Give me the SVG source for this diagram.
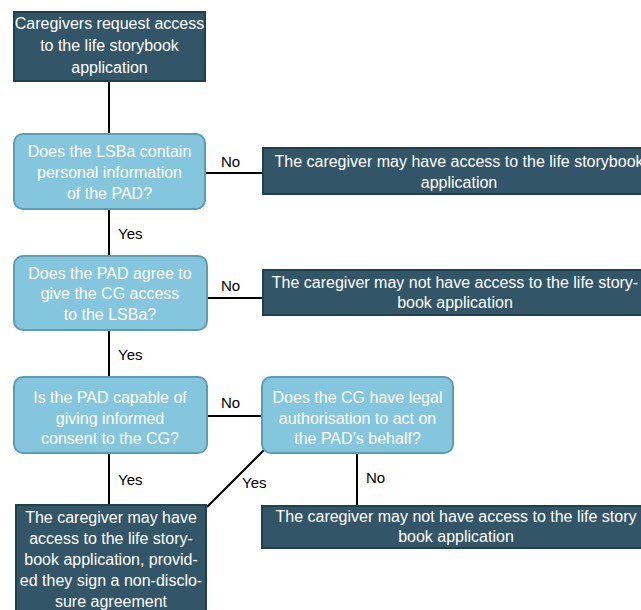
<svg xmlns="http://www.w3.org/2000/svg" width="641" height="610" viewBox="0 0 641 610">
<style>
.dark{fill:#325567;stroke:#21404e;stroke-width:2}
.q{fill:#85c6df;stroke:#5f9bb2;stroke-width:2}
.t{font-family:"Liberation Sans",Arial,sans-serif;font-size:16px;fill:#ffffff;text-anchor:middle}
.l{font-family:"Liberation Sans",Arial,sans-serif;font-size:15px;fill:#000000}
.c{stroke:#000;stroke-width:2;fill:none}
</style>
<rect width="641" height="610" fill="#ffffff"/>
<g id="connectors">
<line class="c" x1="109" y1="82" x2="109" y2="134"/>
<line class="c" x1="205" y1="173" x2="263" y2="173"/>
<line class="c" x1="109" y1="209" x2="109" y2="256"/>
<line class="c" x1="207" y1="298" x2="263" y2="298"/>
<line class="c" x1="109" y1="330" x2="109" y2="377"/>
<line class="c" x1="207" y1="416" x2="262" y2="416"/>
<line class="c" x1="109" y1="453" x2="109" y2="505"/>
<line class="c" x1="264" y1="450" x2="207" y2="507"/>
<line class="c" x1="357" y1="453" x2="357" y2="506"/>
<text class="l" x="221" y="167">No</text>
<text class="l" x="118" y="239">Yes</text>
<text class="l" x="221" y="291">No</text>
<text class="l" x="118" y="360">Yes</text>
<text class="l" x="221" y="408">No</text>
<text class="l" x="118" y="485">Yes</text>
<text class="l" x="242" y="488">Yes</text>
<text class="l" x="366" y="483">No</text>
</g>
<g id="start">
<rect class="dark" x="14" y="12" width="191" height="69"/>
<text class="t" x="109.5" y="29">Caregivers request access</text>
<text class="t" x="109.5" y="51">to the life storybook</text>
<text class="t" x="109.5" y="73">application</text>
</g>
<g id="q1">
<rect class="q" x="14" y="134" width="191" height="75" rx="9"/>
<text class="t" x="109.5" y="157">Does the LSBa contain</text>
<text class="t" x="109.5" y="178">personal information</text>
<text class="t" x="109.5" y="199">of the PAD?</text>
</g>
<g id="r1">
<rect class="dark" x="263" y="148" width="394" height="46"/>
<text class="t" x="459" y="167">The caregiver may have access to the life storybook</text>
<text class="t" x="459" y="188">application</text>
</g>
<g id="q2">
<rect class="q" x="14" y="256" width="193" height="74" rx="9"/>
<text class="t" x="110" y="279">Does the PAD agree to</text>
<text class="t" x="110" y="299">give the CG access</text>
<text class="t" x="110" y="320">to the LSBa?</text>
</g>
<g id="r2">
<rect class="dark" x="263" y="270" width="390" height="45"/>
<text class="t" x="455" y="288">The caregiver may not have access to the life story-</text>
<text class="t" x="455" y="308">book application</text>
</g>
<g id="q3">
<rect class="q" x="14" y="377" width="193" height="76" rx="9"/>
<text class="t" x="110" y="403">Is the PAD capable of</text>
<text class="t" x="110" y="424">giving informed</text>
<text class="t" x="110" y="444">consent to the CG?</text>
</g>
<g id="q4">
<rect class="q" x="262" y="377" width="191" height="76" rx="9"/>
<text class="t" x="357.5" y="403">Does the CG have legal</text>
<text class="t" x="357.5" y="424">authorisation to act on</text>
<text class="t" x="357.5" y="444">the PAD’s behalf?</text>
</g>
<g id="r3">
<rect class="dark" x="16" y="505" width="190" height="110"/>
<text class="t" x="111" y="523">The caregiver may have</text>
<text class="t" x="111" y="544">access to the life story-</text>
<text class="t" x="111" y="565">book application, provid-</text>
<text class="t" x="111" y="586">ed they sign a non-disclo-</text>
<text class="t" x="111" y="607">sure agreement</text>
</g>
<g id="r4">
<rect class="dark" x="262" y="506" width="390" height="42"/>
<text class="t" x="456" y="522">The caregiver may not have access to the life story</text>
<text class="t" x="456" y="542">book application</text>
</g>
</svg>
